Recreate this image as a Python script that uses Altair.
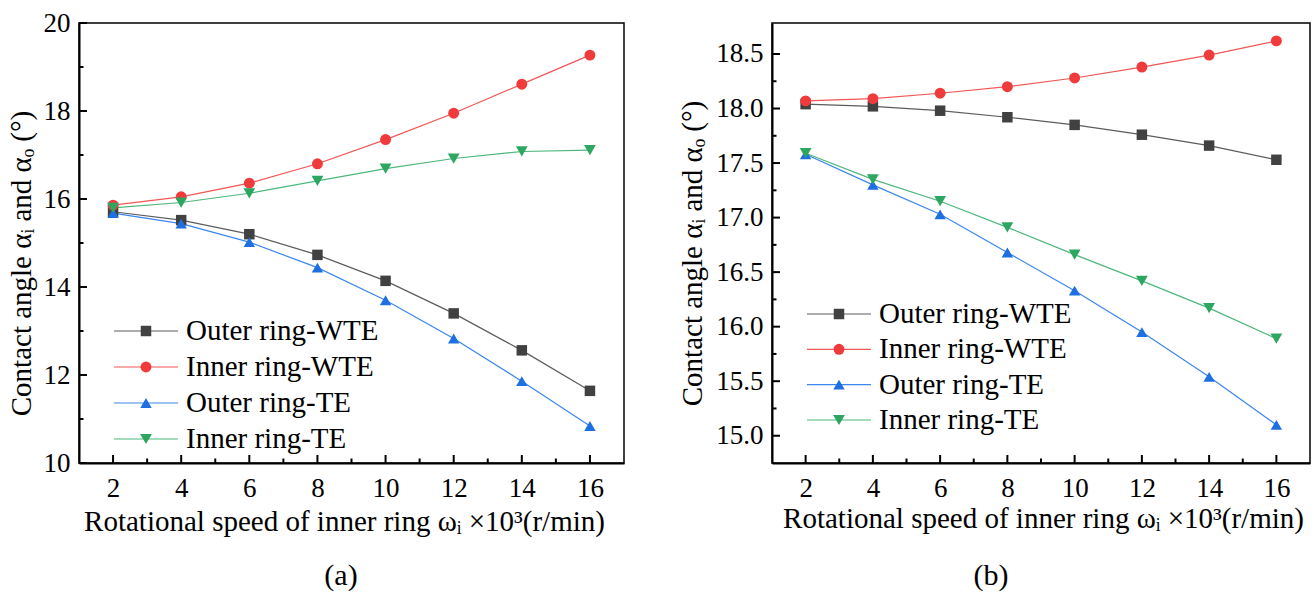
import altair as alt
import pandas as pd

FONT = "Liberation Serif"

# rotational speed of the inner ring, x10^3 r/min
speed = [2, 4, 6, 8, 10, 12, 14, 16]
speed_minor = [3, 5, 7, 9, 11, 13, 15]

series_names = ["Outer ring-WTE", "Inner ring-WTE", "Outer ring-TE", "Inner ring-TE"]
line_colors = ["#5c5c5c", "#f25656", "#3b86ee", "#4db77b"]
marker_colors = ["#414141", "#ef3b3b", "#1e6fe2", "#2ca661"]
marker_shapes = ["square", "circle", "triangle-up", "triangle-down"]
marker_sizes = [110, 140, 160, 160]

# panel (a): contact angles, degrees
outer_wte_a = [15.71, 15.52, 15.20, 14.73, 14.14, 13.40, 12.56, 11.64]
inner_wte_a = [15.86, 16.05, 16.36, 16.80, 17.35, 17.95, 18.61, 19.27]
outer_te_a = [15.68, 15.44, 15.02, 14.44, 13.70, 12.83, 11.86, 10.84]
inner_te_a = [15.80, 15.92, 16.13, 16.41, 16.69, 16.92, 17.08, 17.11]

# panel (b): contact angles, degrees
outer_wte_b = [18.04, 18.02, 17.98, 17.92, 17.85, 17.76, 17.66, 17.53]
inner_wte_b = [18.07, 18.09, 18.14, 18.20, 18.28, 18.38, 18.49, 18.62]
outer_te_b = [17.58, 17.30, 17.03, 16.68, 16.33, 15.95, 15.54, 15.10]
inner_te_b = [17.59, 17.35, 17.15, 16.91, 16.66, 16.42, 16.17, 15.89]

y_major_a = [10, 12, 14, 16, 18, 20]
y_minor_a = [11, 13, 15, 17, 19]
y_major_b = [15.0, 15.5, 16.0, 16.5, 17.0, 17.5, 18.0, 18.5]
y_minor_b = [15.25, 15.75, 16.25, 16.75, 17.25, 17.75, 18.25]

captions = ["(a)", "(b)"]

Y_TITLE = "Contact angle \u03b1\u1d62 and \u03b1\u2092 (\u00b0)"
X_TITLE = "Rotational speed of inner ring \u03c9\u1d62 \u00d710\u00b3(r/min)"


def panel(values, y_domain, y_major, y_minor, y_fmt, width, height,
          legend_range, legend_x, caption, caption_x, caption_y,
          ytitle_x, ytitle_y, xtitle_x, xtitle_y, anchor=False):
    rows = []
    for name, vals in zip(series_names, values):
        for s, v in zip(speed, vals):
            rows.append({"speed": s, "angle": v, "series": name})
    df = pd.DataFrame(rows)

    x_enc = alt.X(
        "speed:Q",
        scale=alt.Scale(domain=[1, 17], nice=False, zero=False),
        axis=alt.Axis(values=speed, title=X_TITLE, labelPadding=12,
                      titleX=xtitle_x, titleY=xtitle_y, titleBaseline="middle"),
    )
    y_enc = alt.Y(
        "angle:Q",
        scale=alt.Scale(domain=y_domain, nice=False, zero=False),
        axis=alt.Axis(values=y_major, format=y_fmt, title=Y_TITLE, labelPadding=9,
                      titleX=ytitle_x, titleY=ytitle_y, titleBaseline="middle",
                      titleAlign="center", titleAngle=270),
    )
    stroke_scale = alt.Scale(domain=series_names, range=line_colors)
    fill_scale = alt.Scale(domain=series_names, range=marker_colors)
    shape_scale = alt.Scale(domain=series_names, range=marker_shapes)
    size_scale = alt.Scale(domain=series_names, range=marker_sizes)

    lines = alt.Chart(df).mark_line(strokeWidth=1.2).encode(
        x=x_enc, y=y_enc,
        stroke=alt.Stroke("series:N", scale=stroke_scale, legend=None),
    )
    points = alt.Chart(df).mark_point(filled=True, opacity=1, strokeWidth=0).encode(
        x=x_enc, y=y_enc,
        fill=alt.Fill("series:N", scale=fill_scale, legend=None),
        shape=alt.Shape("series:N", scale=shape_scale, legend=None),
        size=alt.Size("series:N", scale=size_scale, legend=None),
    )

    # inward ticks drawn along the bottom and left edges
    xt_major = alt.Chart(pd.DataFrame({"speed": speed})).mark_rule(
        color="black", strokeWidth=2).encode(
        x="speed:Q", y=alt.value(height), y2=alt.value(height - 8))
    xt_minor = alt.Chart(pd.DataFrame({"speed": speed_minor})).mark_rule(
        color="black", strokeWidth=2).encode(
        x="speed:Q", y=alt.value(height), y2=alt.value(height - 4.5))
    yt_major = alt.Chart(pd.DataFrame({"angle": y_major})).mark_rule(
        color="black", strokeWidth=2).encode(
        y="angle:Q", x=alt.value(0), x2=alt.value(8))
    yt_minor = alt.Chart(pd.DataFrame({"angle": y_minor})).mark_rule(
        color="black", strokeWidth=2).encode(
        y="angle:Q", x=alt.value(0), x2=alt.value(4.5))

    main = alt.layer(lines, points, xt_major, xt_minor, yt_major, yt_minor)

    # legend block inside the plot
    leg_df = pd.DataFrame({"series": series_names})
    leg_y = alt.Y("series:N", sort=series_names,
                  scale=alt.Scale(type="point", domain=series_names,
                                  range=legend_range, padding=0),
                  axis=None)
    leg_line = alt.Chart(leg_df).mark_rule(strokeWidth=1.2).encode(
        y=leg_y, x=alt.value(legend_x), x2=alt.value(legend_x + 64),
        stroke=alt.Stroke("series:N", scale=stroke_scale, legend=None))
    leg_pt = alt.Chart(leg_df).mark_point(filled=True, opacity=1, strokeWidth=0).encode(
        y=leg_y, x=alt.value(legend_x + 32),
        fill=alt.Fill("series:N", scale=fill_scale, legend=None),
        shape=alt.Shape("series:N", scale=shape_scale, legend=None),
        size=alt.Size("series:N", scale=size_scale, legend=None))
    leg_txt = alt.Chart(leg_df).mark_text(
        align="left", baseline="middle", font=FONT, fontSize=29, color="black").encode(
        y=leg_y, x=alt.value(legend_x + 72), text="series:N")
    legend = alt.layer(leg_line, leg_pt, leg_txt)

    cap = alt.Chart(pd.DataFrame({"cap": [caption]})).mark_text(
        font=FONT, fontSize=30, color="black", baseline="middle").encode(
        x=alt.value(caption_x), y=alt.value(caption_y), text="cap:N")

    layers = [main, legend, cap]
    if anchor:
        # white corner mark that pins the top-left of the page to the figure edge
        corner = alt.Chart(pd.DataFrame({"c": [0]})).mark_rule(
            color="white", strokeWidth=1).encode(
            x=alt.value(-77.5), x2=alt.value(-76.5), y=alt.value(-21.5))
        layers.append(corner)

    return alt.layer(*layers).resolve_scale(y="independent").properties(
        width=width, height=height)


left = panel([outer_wte_a, inner_wte_a, outer_te_a, inner_te_a],
             [10, 20], y_major_a, y_minor_a, "d", 545, 440,
             [308, 416], 35, captions[0], 262, 553,
             -58, 240, 265, 58, anchor=True)
right = panel([outer_wte_b, inner_wte_b, outer_te_b, inner_te_b],
              [14.75, 18.784], y_major_b, y_minor_b, ".1f", 538, 440,
              [291, 397], 35, captions[1], 219, 553,
              -80, 230, 271, 55)

chart = alt.hconcat(left, right, spacing=148, bounds="flush").properties(
    padding=0,
    background="white",
).configure_view(
    stroke="black", strokeWidth=1.5
).configure_axis(
    domainColor="black", domainWidth=2, ticks=False, tickSize=0, grid=False,
    labelFont=FONT, labelFontSize=27, labelColor="black",
    titleFont=FONT, titleFontSize=29, titleColor="black", titleFontWeight="normal",
)

chart.save("out.html", embed_options={"renderer": "svg", "actions": False})
